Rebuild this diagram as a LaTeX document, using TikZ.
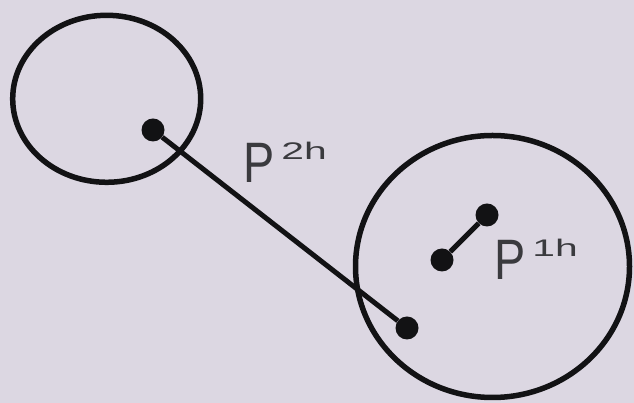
\documentclass[tikz,border=0pt]{standalone}
\usepackage{fontspec}
\setmainfont{Liberation Sans}
\usetikzlibrary{shapes.geometric}
\definecolor{pbg}{RGB}{220,215,226}
\definecolor{pline}{RGB}{18,18,20}
\definecolor{ptext}{RGB}{58,58,62}
\tikzset{
  pdomain/.style={
    ellipse, draw=pline, line width=5.5pt, inner sep=0pt
  },
  psite/.style={circle, fill=pline, minimum size=23pt, inner sep=0pt},
  pbond/.style={draw=pline, line width=5pt},
  plabel/.style={anchor=base west, inner sep=0pt, text=ptext}
}
\newcommand{\plab}[2]{%
  \scalebox{0.82}[1]{\fontsize{57}{57}\selectfont #1}\hspace{7pt}%
  \raisebox{23pt}{\scalebox{1.7}[1]{\fontsize{24}{24}\selectfont #2}}}

\begin{document}
\begin{tikzpicture}[x=1pt,y=1pt]
  \useasboundingbox (0,0) rectangle (634,403);
  \fill[pbg] (0,0) rectangle (634,403);

  % the two domains
  \node[pdomain,minimum width=188pt,minimum height=167pt] (dleft) at (106.7,304.2) {};
  \node[pdomain,minimum width=274pt,minimum height=262pt] (dright) at (492.5,136.5) {};

  % long pair, across the domains
  \node[psite] (a2) at (153,273) {};
  \node[psite] (b2) at (407,75) {};
  \draw[pbond] (a2) -- (b2);
  \node[plabel] (l2) at (243,220) {\plab{P}{2h}};

  % short pair, inside the right domain
  \node[psite] (a1) at (442,143) {};
  \node[psite] (b1) at (487,188) {};
  \draw[pbond] (a1) -- (b1);
  \node[plabel] (l1) at (494,123) {\plab{P}{1h}};
\end{tikzpicture}
\end{document}
